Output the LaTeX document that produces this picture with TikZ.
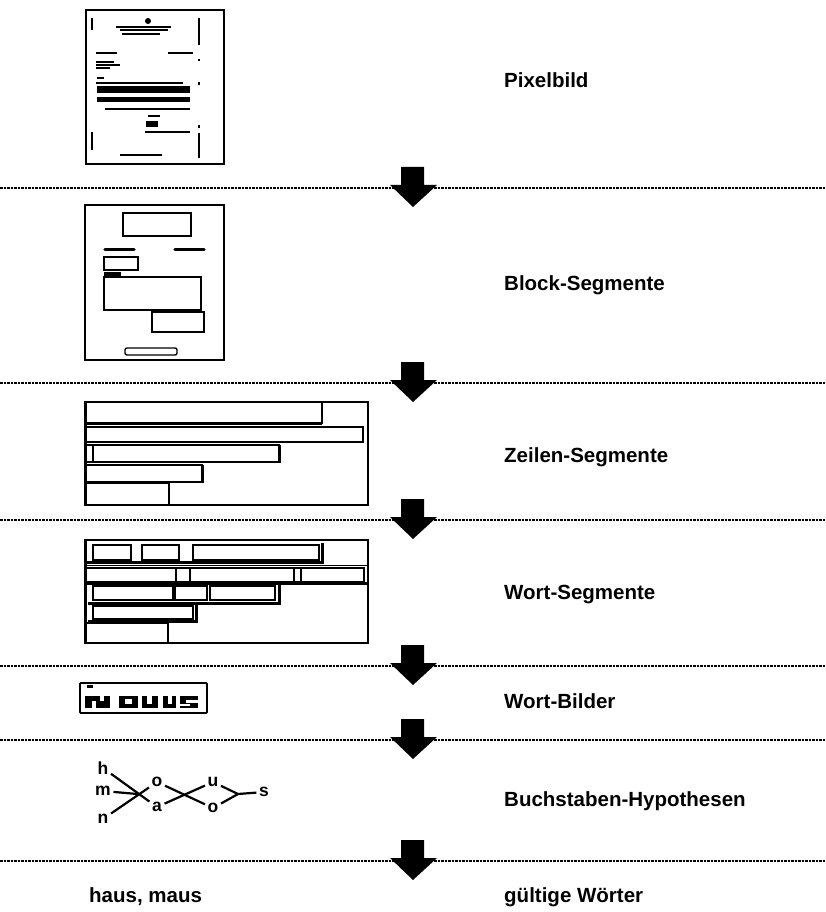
\documentclass[tikz,border=0pt]{standalone}
\usepackage{fontspec}
\setmainfont{Liberation Sans}
\begin{document}
\begin{tikzpicture}[x=1pt,y=-1pt,
  sep/.style={line width=1.4pt, dash pattern=on 2.5pt off 1pt},
  lbl/.style={anchor=base west, inner sep=0pt, font=\fontsize{20.5}{24}\selectfont\bfseries},
  frame/.style={draw, line width=1.8pt},
  seg/.style={draw, line width=1.4pt},
  heavy/.style={line width=3pt},
  hyp/.style={line width=2.2pt},
  letter/.style={inner sep=2.5pt, font=\fontsize{17.5}{20}\selectfont\bfseries}
]
\useasboundingbox (0,0) rectangle (825,912);
\fill[white] (0,0) rectangle (825,912);

% separator lines with arrows
\foreach \yy/\nm in {188/s1,383/s2,520/s3,666/s4,740/s5,861/s6}{
  \coordinate (\nm L) at (0,\yy);
  \coordinate (\nm R) at (825,\yy);
  \draw[sep] (\nm L) -- (\nm R);
  \fill[shift={(0,\yy)}] (401,-21) -- (424,-21) -- (424,-3) -- (437,-3) -- (413,19) -- (390,-3) -- (401,-3) -- cycle;
}

% labels
\node[lbl] (l1) at (504,88) {Pixelbild};
\node[lbl] (l2) at (504,290) {Block-Segmente};
\node[lbl] (l3) at (504,462) {Zeilen-Segmente};
\node[lbl] (l4) at (504,599) {Wort-Segmente};
\node[lbl] (l5) at (504,708) {Wort-Bilder};
\node[lbl] (l6) at (504,806) {Buchstaben-Hypothesen};
\node[lbl] (l7) at (504,902) {gültige Wörter};
\node[lbl] (l8) at (89,902) {haus, maus};

% ---------- Pixelbild (document thumbnail)
\draw[frame] (86,10) rectangle (224,164);
\fill (148,21) circle (3);
\fill (116,26) rectangle (171,28.5);
\fill (120,29.5) rectangle (168,31.5);
\fill (122,33) rectangle (160,35);
\fill (96,52) rectangle (117,54.5);
\fill (168,52) rectangle (193,54.5);
\fill (96,61) rectangle (114,63);
\fill (96,64) rectangle (120,66);
\fill (96,67) rectangle (110,69);
\fill (97,77) rectangle (104,79);
\fill (96,82) rectangle (183,84);
\fill (97,86) rectangle (190,93);
\fill (97,97) rectangle (190,102);
\fill (105,108) rectangle (190,110);
\fill (148,115) rectangle (160,117);
\fill (146,121) rectangle (158,127);
\fill (145,131) rectangle (190,133);
\fill (120,154) rectangle (162,156);
\fill (198,18) rectangle (200,45);
\fill (198,59) rectangle (200,61);
\fill (198,82) rectangle (200,85);
\fill (198,125) rectangle (200,128);
\fill (198,133) rectangle (200,158);
\fill (91,18) rectangle (93,30);
\fill (91,132) rectangle (93,150);

% ---------- Block-Segmente
\draw[frame] (85,205) rectangle (224,360);
\draw[seg] (123,213) rectangle (191,236);
\draw[line width=3.5pt, line cap=round] (105,249.5) -- (134,249.5);
\draw[line width=3.5pt, line cap=round] (175,249.5) -- (204,249.5);
\draw[seg] (104,257) rectangle (138,270);
\fill (104,272) rectangle (121,277);
\draw[seg] (104,277) rectangle (201,310);
\draw[seg] (152,312) rectangle (204,332);
\draw[seg, rounded corners=2pt] (125,348) rectangle (177,355);

% ---------- Zeilen-Segmente
\draw[frame] (85,402) rectangle (368,505);
\draw[line width=3pt] (85,402) -- (85,505);
\draw[seg] (85,402) rectangle (322,423);
\draw[heavy] (85,423.5) -- (322,423.5);
\draw[seg] (85,427) rectangle (363,442);
\draw[seg] (85,445) rectangle (93,462);
\draw[seg] (93,445) rectangle (279,462);
\draw[heavy] (279,445) -- (279,463);
\draw[seg] (85,465) rectangle (202,482);
\draw[heavy] (202,465) -- (202,483);
\draw[seg] (85,483) rectangle (169,505);

% ---------- Wort-Segmente
\draw[frame] (85,540) rectangle (368,643);
\draw[line width=3pt] (85,540) -- (85,643);
\draw[seg] (93,545) rectangle (131,560);
\draw[seg] (142,545) rectangle (179,560);
\draw[seg] (193,545) rectangle (319,560);
\draw[heavy] (85,562) -- (322,562) -- (322,543);
\draw[line width=0.8pt] (85,565) -- (368,565);
\draw[seg] (85,568) rectangle (176,582);
\draw[seg] (176,568) rectangle (190,582);
\draw[seg] (190,568) rectangle (294,582);
\draw[seg] (294,568) rectangle (301,582);
\draw[seg] (301,568) rectangle (364,582);
\draw[heavy] (85,583) -- (368,583);
\draw[seg] (93,586) rectangle (173,600);
\draw[seg] (175,586) rectangle (207,600);
\draw[seg] (210,586) rectangle (275,600);
\draw[heavy] (88,603) -- (279,603) -- (279,585);
\draw[seg] (93,606) rectangle (193,619);
\draw[heavy] (88,621) -- (196,621) -- (196,604);
\draw[seg] (85,623) rectangle (168,643);

% ---------- Wort-Bilder (pixelated word image)
\draw[frame, rounded corners=1pt] (80,683) rectangle (207,713);
\fill (87,685) rectangle (93,688);
\fill (85,696) rectangle (110,708);
\fill[white] (92,701) rectangle (96,708);
\fill[white] (100,696) rectangle (104,701);
\fill (119,696) rectangle (138,708);
\fill[white] (125,699) rectangle (132,704);
\fill (142,696) rectangle (158,708);
\fill[white] (147,696) rectangle (152,704);
\fill (163,696) rectangle (176,708);
\fill[white] (168,696) rectangle (172,704);
\fill (180,696) rectangle (198,708);
\fill[white] (186,700) rectangle (198,703);
\fill[white] (180,704) rectangle (190,706);

% ---------- Buchstaben-Hypothesen
\node[letter] (h) at (103,768) {h};
\node[letter] (m) at (103,791) {m};
\node[letter] (n) at (103,819) {n};
\node[letter] (o1) at (157,782) {o};
\node[letter] (a) at (157,807) {a};
\node[letter] (u) at (213,782) {u};
\node[letter] (o2) at (213,808) {o};
\node[letter] (s) at (264,792) {s};
\coordinate (j1) at (intersection of h--a and n--o1);
\coordinate (j3) at (238,794);
\draw[hyp] (h) -- (a);
\draw[hyp] (n) -- (o1);
\draw[hyp] (m) -- (j1);
\draw[hyp] (o1) -- (o2);
\draw[hyp] (a) -- (u);
\draw[hyp] (u) -- (j3);
\draw[hyp] (o2) -- (j3);
\draw[hyp] (j3) -- (s);
\end{tikzpicture}
\end{document}
